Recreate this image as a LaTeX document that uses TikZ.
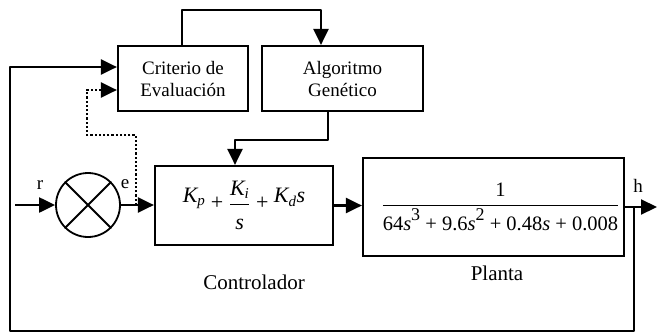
\documentclass[tikz,border=0pt]{standalone}
\usepackage{fontspec}
\setmainfont{Liberation Serif}
\usetikzlibrary{arrows.meta}
\newcommand{\itx}[1]{\mbox{\itshape #1}}
\newcommand{\subx}[1]{\mbox{\itshape\fontsize{15}{15}\selectfont #1}}
\newcommand{\supx}[1]{\raisebox{.5em}{\fontsize{18}{18}\selectfont #1}}
\begin{document}
\begin{tikzpicture}[x=1pt,y=-1pt,
  every node/.style={font=\fontsize{19}{22}\selectfont},
  blk/.style={draw,line width=2.2pt,inner sep=0pt,align=center},
  arr/.style={line width=2.2pt,line join=round,-{Triangle[length=16pt,width=15pt]}},
  dotarr/.style={line width=2.2pt,dotted,-{Triangle[length=16pt,width=15pt,sep=0pt]}},
  lbl/.style={inner sep=0pt},
  biglbl/.style={inner sep=0pt,font=\fontsize{21}{24}\selectfont}]
\useasboundingbox (0,0) rectangle (657,333);
% blocks
\node[blk,minimum width=130pt,minimum height=65pt] (crit) at (183,78.5) {Criterio de\\Evaluación};
\node[blk,minimum width=161pt,minimum height=65pt] (ag) at (342.5,78.5) {Algoritmo\\Genético};
\node[blk,minimum width=178pt,minimum height=79pt,font=\fontsize{22}{26}\selectfont] (ctrl) at (244,205.5)
  {$\displaystyle \raisebox{.3em}{$\itx{K}_{\subx{p}}$}\mbox{ + }
   \frac{\itx{K}_{\subx{i}}}{\rule{0pt}{1.1em}\itx{s}}
   \mbox{ + }\raisebox{.3em}{$\itx{K}_{\subx{d}}\itx{s}$}$};
\node[blk,minimum width=261pt,minimum height=98pt,font=\fontsize{20.5}{25}\selectfont] (plant) at (493.5,207)
  {\hspace*{14pt}\raisebox{9pt}{$\displaystyle \frac{\mbox{1}}{\rule{0pt}{1.15em}\mbox{64\textit{s}\supx{3} + 9.6\textit{s}\supx{2} + 0.48\textit{s} + 0.008}}$}};
\node[draw,circle,line width=1.8pt,minimum size=64pt,inner sep=0pt] (sum) at (88,205) {};
\draw[line width=1.8pt] (sum.north west) -- (sum.south east) (sum.north east) -- (sum.south west);
% coordinates
\coordinate (in) at (15,205);
\coordinate (out) at (657,207);
\coordinate (fb1) at (634,207);
\coordinate (fb2) at (634,331);
\coordinate (fb3) at (10,331);
\coordinate (fb4) at (10,67);
\coordinate (d1) at (136,205);
\coordinate (d2) at (136,135);
\coordinate (d3) at (87,135);
\coordinate (d4) at (87,90);
\coordinate (t1) at (182,10);
\coordinate (t2) at (321,10);
\coordinate (g1) at (328,140);
\coordinate (g2) at (235,140);
% connectors
\draw[arr] (in) -- (sum.west);
\draw[arr] (sum.east) -- (sum.east -| ctrl.west);
\draw[arr] (ctrl.east) -- (ctrl.east -| plant.west);
\draw[arr] (plant.east |- out) -- (out);
\draw[arr] (fb1) -- (fb2) -- (fb3) -- (fb4) -- (fb4 -| crit.west);
\draw[dotarr] (d1) -- (d2) -- (d3) -- (d4) -- (d4 -| crit.west);
\draw[arr] (crit.north -| t1) -- (t1) -- (t2) -- (t2 |- ag.north);
\draw[arr] (ag.south -| g1) -- (g1) -- (g2) -- (g2 |- ctrl.north);
% labels
\node[lbl] (lr) at (40,185) {r};
\node[lbl] (le) at (125,184) {e};
\node[lbl] (lh) at (638,186) {h};
\node[biglbl] (lc) at (254,282) {Controlador};
\node[biglbl] (lp) at (497,273) {Planta};
\end{tikzpicture}
\end{document}
